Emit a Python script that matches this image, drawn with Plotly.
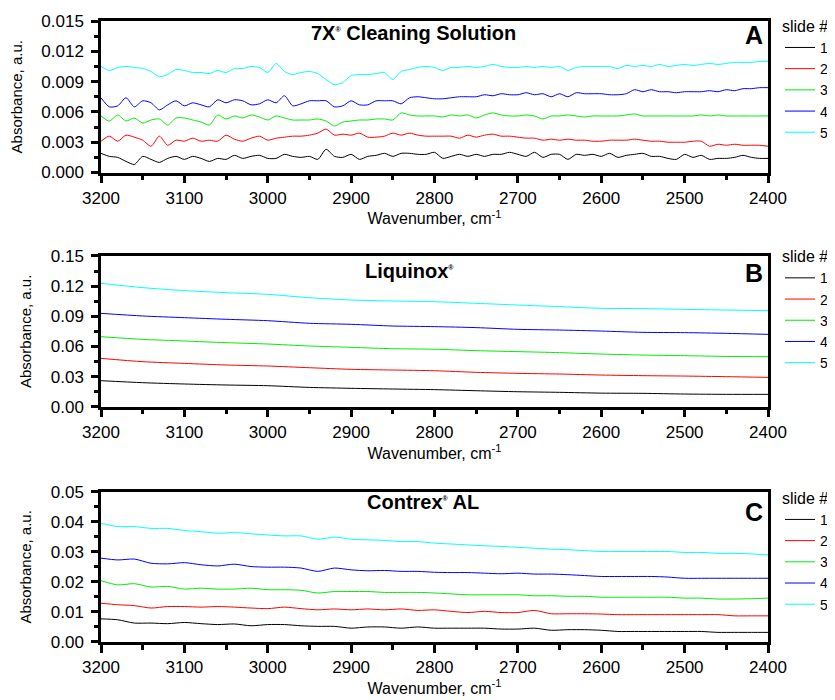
import plotly.graph_objects as go

# ---------------- data ----------------
slides = ["1", "2", "3", "4", "5"]
colors = ["#000000", "#ff0000", "#00ee00", "#0000ff", "#00ffff"]

# Panel A (7X Cleaning Solution): wavenumber 3200 -> 2400, step 10 ; values in 1e-3 a.u.
wn_A = list(range(3200, 2399, -10))
A_s1 = [1.9,1.6,1.5,1.1,0.8,1.6,1.3,1.0,1.4,1.6,
        1.3,1.6,1.4,1.1,1.4,1.3,1.7,1.4,1.6,1.7,
        1.4,1.4,1.8,1.6,1.5,1.6,1.3,2.3,1.6,1.5,
        1.8,1.3,1.6,1.7,1.9,1.6,1.9,1.9,1.8,1.8,
        2.0,1.4,1.6,1.8,1.6,1.8,1.6,1.8,1.8,2.0,
        1.8,1.6,2.0,1.5,1.8,1.8,1.3,1.8,1.7,1.8,
        1.6,1.9,1.5,1.7,1.8,1.9,1.6,1.6,1.4,1.3,
        1.8,1.5,1.7,1.3,1.4,1.4,1.5,1.7,1.5,1.4,
        1.4]
A_s2 = [3.1,3.6,3.1,3.7,3.5,3.2,2.6,3.6,2.7,3.2,
        3.1,3.4,3.1,3.2,3.1,3.7,3.3,3.1,3.4,3.6,
        3.2,3.4,3.5,3.6,3.6,3.7,3.9,4.3,3.7,3.8,
        3.7,3.9,3.5,3.5,3.6,3.9,3.7,3.9,3.7,3.6,
        3.6,3.6,3.6,3.4,3.7,3.5,3.7,3.8,3.6,3.6,
        3.5,3.4,3.4,3.2,3.3,3.2,3.3,3.2,3.2,3.1,
        3.1,3.2,3.2,3.2,3.3,3.2,3.1,3.1,3.0,3.0,
        3.0,3.1,3.1,2.6,2.8,2.7,2.8,2.7,2.7,2.7,
        2.6]
A_s3 = [5.6,5.1,5.7,5.1,5.4,4.9,5.2,5.3,4.7,5.4,
        5.4,5.2,5.0,4.7,5.7,5.3,5.6,5.4,5.7,5.5,
        5.2,5.6,5.4,5.2,5.2,5.2,5.3,5.1,4.6,5.0,
        5.1,5.2,5.2,5.3,5.3,5.2,5.9,5.7,5.6,5.6,
        5.6,5.5,5.7,5.6,5.7,5.4,5.7,5.9,5.7,5.6,
        5.6,5.7,5.6,5.3,5.6,5.6,5.7,5.6,5.5,5.6,
        5.6,5.6,5.6,5.7,5.8,5.6,5.6,5.6,5.6,5.6,
        5.6,5.6,5.7,5.6,5.7,5.6,5.6,5.6,5.6,5.6,
        5.6]
A_s4 = [7.4,6.5,6.6,7.4,6.5,7.1,6.9,6.2,6.7,7.1,
        6.6,6.9,6.7,6.5,7.2,6.9,7.2,7.1,6.7,6.8,
        7.2,6.9,7.6,6.6,6.8,7.1,7.1,7.1,6.5,6.6,
        7.1,6.7,6.7,7.1,7.1,7.1,6.8,7.4,7.5,7.4,
        7.3,7.3,7.4,7.5,7.5,7.5,7.7,7.6,7.8,7.7,
        7.7,7.9,7.7,7.8,7.5,7.8,7.5,7.9,7.8,7.8,
        7.8,7.7,7.7,7.8,8.2,8.0,8.2,8.0,8.0,7.9,
        8.0,8.0,8.0,8.1,8.0,8.2,8.1,8.3,8.3,8.4,
        8.4]
A_s5 = [10.5,10.1,10.4,10.5,10.4,10.3,10.0,9.5,9.7,10.2,
        10.1,9.9,9.9,9.8,10.1,9.9,10.3,10.3,10.5,10.4,
        9.9,10.8,10.0,9.7,9.9,10.0,9.8,9.2,8.7,8.9,
        9.6,9.7,9.7,9.8,9.9,9.2,10.0,10.2,10.4,10.5,
        10.4,10.1,10.4,10.4,10.5,10.4,10.5,10.7,10.5,10.4,
        10.4,10.5,10.4,10.5,10.4,10.5,10.1,10.4,10.5,10.5,
        10.5,10.5,10.3,10.6,10.5,10.6,10.5,10.7,10.5,10.6,
        10.7,10.6,10.7,10.8,10.7,10.8,10.9,10.9,10.9,11.0,
        11.0]

# Panel B (Liquinox): wavenumber 3200 -> 2400, step 50 ; a.u.
wn_B = list(range(3200, 2399, -50))
B_s1 = [0.0259,0.0239,0.0226,0.0216,0.0209,0.0192,0.0183,0.0176,0.0170,0.0159,0.0149,0.0143,0.0135,0.0133,0.0126,0.0123,0.0123]
B_s2 = [0.0481,0.0448,0.0431,0.0415,0.0405,0.0388,0.0372,0.0365,0.0358,0.0342,0.0332,0.0325,0.0315,0.0309,0.0305,0.0299,0.0292]
B_s3 = [0.0697,0.0670,0.0654,0.0637,0.0624,0.0604,0.0591,0.0577,0.0572,0.0558,0.0548,0.0538,0.0524,0.0514,0.0508,0.0500,0.0498]
B_s4 = [0.0929,0.0903,0.0886,0.0870,0.0856,0.0830,0.0820,0.0803,0.0797,0.0787,0.0770,0.0763,0.0753,0.0740,0.0737,0.0730,0.0720]
B_s5 = [0.1228,0.1185,0.1155,0.1135,0.1118,0.1085,0.1062,0.1052,0.1045,0.1029,0.1012,0.0996,0.0979,0.0976,0.0969,0.0962,0.0956]

# Panel C (Contrex AL): wavenumber 3200 -> 2400, step 20 ; a.u.
wn_C = list(range(3200, 2399, -20))
C_s1 = [0.0077,0.0074,0.0063,0.0063,0.0061,0.0065,0.0061,0.0058,0.0060,0.0054,0.0058,0.0058,0.0054,0.0052,0.0052,0.0046,0.0050,0.0050,0.0046,0.0050,0.0046,
        0.0046,0.0046,0.0046,0.0043,0.0043,0.0046,0.0039,0.0041,0.0041,0.0039,0.0035,0.0035,0.0035,0.0035,0.0035,0.0035,0.0032,0.0032,0.0032,0.0032]
C_s2 = [0.0129,0.0124,0.0121,0.0113,0.0118,0.0118,0.0116,0.0118,0.0116,0.0113,0.0111,0.0116,0.0111,0.0107,0.0110,0.0107,0.0110,0.0107,0.0110,0.0105,0.0107,
        0.0102,0.0098,0.0102,0.0098,0.0098,0.0105,0.0094,0.0094,0.0094,0.0093,0.0091,0.0091,0.0091,0.0091,0.0091,0.0091,0.0091,0.0087,0.0087,0.0087]
C_s3 = [0.0204,0.0190,0.0194,0.0183,0.0185,0.0176,0.0179,0.0176,0.0176,0.0179,0.0174,0.0174,0.0172,0.0163,0.0168,0.0168,0.0168,0.0165,0.0165,0.0165,0.0163,
        0.0160,0.0157,0.0157,0.0157,0.0157,0.0154,0.0154,0.0152,0.0152,0.0149,0.0149,0.0149,0.0149,0.0149,0.0146,0.0146,0.0143,0.0143,0.0144,0.0146]
C_s4 = [0.0279,0.0273,0.0276,0.0262,0.0260,0.0264,0.0257,0.0253,0.0259,0.0251,0.0249,0.0249,0.0246,0.0235,0.0246,0.0240,0.0237,0.0238,0.0235,0.0235,0.0232,
        0.0231,0.0231,0.0229,0.0227,0.0229,0.0226,0.0226,0.0224,0.0221,0.0218,0.0218,0.0218,0.0218,0.0216,0.0212,0.0212,0.0212,0.0212,0.0212,0.0212]
C_s5 = [0.0395,0.0384,0.0384,0.0378,0.0378,0.0371,0.0367,0.0362,0.0364,0.0360,0.0356,0.0353,0.0353,0.0342,0.0349,0.0342,0.0340,0.0338,0.0334,0.0334,0.0329,
        0.0326,0.0323,0.0320,0.0318,0.0315,0.0312,0.0309,0.0307,0.0304,0.0301,0.0301,0.0301,0.0301,0.0301,0.0298,0.0298,0.0295,0.0295,0.0293,0.0290]

panel_titles = ["7X<sup><span style='font-size:7px'>®</span></sup> Cleaning Solution",
                "Liquinox<sup><span style='font-size:7px'>®</span></sup>",
                "Contrex<sup><span style='font-size:7px'>®</span></sup> AL"]
panel_letters = ["A", "B", "C"]
x_title = "Wavenumber, cm<sup>-1</sup>"
y_title = "Absorbance, a.u."

# ---------------- figure ----------------
FONT = "Liberation Sans, Arial, sans-serif"
fig = go.Figure()

A_series = [[v / 1000 for v in s] for s in (A_s1, A_s2, A_s3, A_s4, A_s5)]
panels = [
    (wn_A, A_series, "x", "y", "legend"),
    (wn_B, [B_s1, B_s2, B_s3, B_s4, B_s5], "x2", "y2", "legend2"),
    (wn_C, [C_s1, C_s2, C_s3, C_s4, C_s5], "x3", "y3", "legend3"),
]
for wn, series, xa, ya, lg in panels:
    for name, col, ys in zip(slides, colors, series):
        fig.add_trace(go.Scatter(x=wn, y=ys, mode="lines", name=name,
                                 line=dict(color=col, width=1, shape="spline", smoothing=0.7),
                                 xaxis=xa, yaxis=ya, legend=lg))

ydomains = [[0.756, 1.0], [0.3789, 0.6216], [0.0, 0.242]]
yranges = [[0, 0.015], [0, 0.15], [0, 0.05]]
ydticks = [0.003, 0.03, 0.01]
yformats = [".3f", ".2f", ".2f"]

def xaxis(anchor):
    return dict(domain=[0, 1], range=[3200, 2400], anchor=anchor,
                dtick=100, tick0=2400, ticks="outside", ticklen=8, tickwidth=2.5,
                tickcolor="black", showline=True, linewidth=2.5, linecolor="black",
                mirror=True, showgrid=False, zeroline=False,
                tickfont=dict(size=17, family=FONT, color="black"),
                minor=dict(dtick=50, tick0=2400, ticks="outside", ticklen=5,
                           tickwidth=2.5, tickcolor="black", showgrid=False),
                title=dict(text=x_title, font=dict(size=16, family=FONT, color="black"),
                           standoff=2),
                automargin=False)

def yaxis(i, anchor):
    return dict(domain=ydomains[i], range=yranges[i], anchor=anchor,
                dtick=ydticks[i], tick0=0, tickformat=yformats[i],
                ticks="outside", ticklen=7, tickwidth=2.5, tickcolor="black",
                showline=True, linewidth=2.5, linecolor="black", mirror=True,
                showgrid=False, zeroline=False, ticklabelstandoff=4,
                tickfont=dict(size=17, family=FONT, color="black"),
                minor=dict(dtick=ydticks[i] / 2, ticks="outside", ticklen=4,
                           tickwidth=2.5, tickcolor="black", showgrid=False),
                title=dict(text=y_title, font=dict(size=15, family=FONT, color="black"),
                           standoff=16),
                automargin=False)

def legend(ytop):
    return dict(title=dict(text="slide #", font=dict(size=16, family=FONT, color="black")),
                x=1.018, xanchor="left", y=ytop, yanchor="top",
                font=dict(size=14, family=FONT, color="black"),
                bgcolor="rgba(0,0,0,0)", borderwidth=0, tracegroupgap=0,
                itemwidth=30)

annotations = []
title_pos = [(0.469, 0.981), (0.463, 0.597), (0.483, 0.226)]
letter_pos = [0.977, 0.594, 0.21]
for i in range(3):
    annotations.append(dict(text="<b>" + panel_titles[i] + "</b>", xref="paper", yref="paper",
                            x=title_pos[i][0], y=title_pos[i][1], xanchor="center",
                            yanchor="middle", showarrow=False,
                            font=dict(size=20, family=FONT, color="black")))
    annotations.append(dict(text="<b>" + panel_letters[i] + "</b>", xref="paper", yref="paper",
                            x=0.995, y=letter_pos[i], xanchor="right", yanchor="middle",
                            showarrow=False, font=dict(size=25, family=FONT, color="black")))

# the page body adds an 8 px offset, so the figure is sized to end at the window edge
fig.update_layout(
    width=827, height=692,
    margin=dict(l=93, r=67, t=13, b=58, autoexpand=False),
    paper_bgcolor="white", plot_bgcolor="white",
    font=dict(family=FONT, color="black"),
    xaxis=xaxis("y"), yaxis=yaxis(0, "x"),
    xaxis2=xaxis("y2"), yaxis2=yaxis(1, "x2"),
    xaxis3=xaxis("y3"), yaxis3=yaxis(2, "x3"),
    legend=legend(1.016), legend2=legend(0.645), legend3=legend(0.256),
    annotations=annotations,
    showlegend=True,
)

fig.write_html("out.html")
